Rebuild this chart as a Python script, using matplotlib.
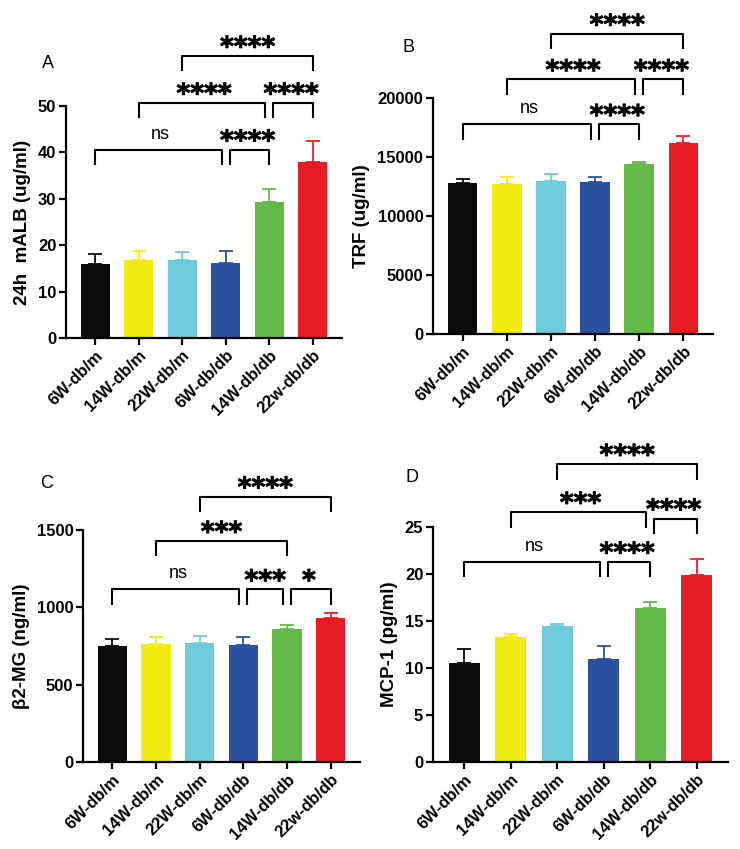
import matplotlib
matplotlib.use('Agg')
import matplotlib.pyplot as plt
import matplotlib.patheffects as pe

plt.rcParams['font.family'] = ['Liberation Sans', 'DejaVu Sans']

groups = ['6W-db/m', '14W-db/m', '22W-db/m', '6W-db/db', '14W-db/db', '22w-db/db']
colors = ['#0b0b0b', '#f2ea12', '#6ecbdb', '#2c50a2', '#63b947', '#e81c25']

# panel A : 24h mALB
malb_mean = [15.9, 16.8, 16.8, 16.2, 29.3, 38.0]
malb_err = [2.3, 2.0, 1.8, 2.6, 2.9, 4.4]
malb_sig = [(0, 3, 40.6, 'ns'), (3, 4, 40.6, '****'), (1, 4, 50.7, '****'),
            (4, 5, 50.7, '****'), (2, 5, 60.8, '****')]

# panel B : TRF
trf_mean = [12760, 12700, 12960, 12850, 14390, 16200]
trf_err = [340, 620, 590, 420, 200, 590]
trf_sig = [(0, 3, 17780, 'ns'), (3, 4, 17780, '****'), (1, 4, 21580, '****'),
           (4, 5, 21580, '****'), (2, 5, 25440, '****')]

# panel C : beta2-MG
b2mg_mean = [753, 762, 770, 757, 861, 932]
b2mg_err = [43, 47, 46, 50, 22, 30]
b2mg_sig = [(0, 3, 1116, 'ns'), (3, 4, 1116, '***'), (4, 5, 1116, '*'),
            (1, 4, 1429, '***'), (2, 5, 1716, '****')]

# panel D : MCP-1
mcp_mean = [10.5, 13.26, 14.46, 10.93, 16.37, 19.9]
mcp_err = [1.5, 0.4, 0.25, 1.37, 0.63, 1.74]
mcp_sig = [(0, 3, 21.3, 'ns'), (3, 4, 21.3, '****'), (1, 4, 26.6, '***'),
           (4, 5, 25.9, '****'), (2, 5, 31.7, '****')]


def bar_panel(ax, means, errs, sig, ylabel, ymax, ystep, letter, letter_xy):
    x = list(range(len(groups)))
    ax.bar(x, means, width=0.67, color=colors, zorder=2)
    for i in x:
        ax.errorbar(i, means[i], yerr=[[0], [errs[i]]], fmt='none',
                    ecolor=colors[i], elinewidth=1.3, capsize=5, capthick=1.3, zorder=3)
    ax.set_xlim(-0.67, len(groups) - 0.33)
    ax.set_ylim(0, ymax)
    ax.set_yticks([v * ystep for v in range(int(ymax / ystep) + 1)])
    ax.set_xticks(x)
    ax.set_xticklabels(groups, rotation=45, ha='right', rotation_mode='anchor',
                       fontweight='bold', fontsize=12)
    for lab in ax.get_yticklabels():
        lab.set_fontweight('bold')
        lab.set_fontsize(12)
    ax.spines['top'].set_visible(False)
    ax.spines['right'].set_visible(False)
    ax.spines['left'].set_linewidth(1.6)
    ax.spines['bottom'].set_linewidth(1.6)
    ax.tick_params(width=1.6, length=5, direction='out', pad=2)
    ax.set_ylabel(ylabel, fontweight='bold', fontsize=13.5, labelpad=5)

    tick = 0.062 * ymax
    for (i, j, y, label) in sig:
        x1, x2 = i, j
        for (a, b, yy, _) in sig:
            if abs(yy - y) < 0.05 * ymax and (a, b) != (i, j):
                if b == i:
                    x1 = i + 0.09
                if a == j:
                    x2 = j - 0.09
        ax.plot([x1, x1, x2, x2], [y - tick, y, y, y - tick], color='black',
                lw=1.5, clip_on=False, zorder=4)
        if label == 'ns':
            ax.annotate(label, xy=((i + j) / 2, y), xytext=(0, 8),
                        textcoords='offset points', ha='center', va='baseline',
                        fontsize=13, annotation_clip=False)
        else:
            ax.annotate(label, xy=((i + j) / 2, y), xytext=(0, 0.5),
                        textcoords='offset points', ha='center', va='baseline',
                        fontsize=19, fontweight='bold', family='DejaVu Sans',
                        annotation_clip=False,
                        path_effects=[pe.withStroke(linewidth=0.7, foreground='black')])
    fig.text(letter_xy[0] / 740, 1 - letter_xy[1] / 849, letter, fontsize=13,
             ha='center', va='center')


fig = plt.figure(figsize=(7.4, 8.49), dpi=100)
axA = fig.add_axes([66 / 740, 1 - 338 / 849, 276 / 740, 232 / 849])
axB = fig.add_axes([433 / 740, 1 - 334 / 849, 280 / 740, 236 / 849])
axC = fig.add_axes([83 / 740, 1 - 762 / 849, 277 / 740, 232 / 849])
axD = fig.add_axes([433 / 740, 1 - 762 / 849, 295 / 740, 235 / 849])

bar_panel(axA, malb_mean, malb_err, malb_sig, '24h  mALB (ug/ml)', 50, 10, 'A', (48, 63))
bar_panel(axB, trf_mean, trf_err, trf_sig, 'TRF (ug/ml)', 20000, 5000, 'B', (408, 48))
bar_panel(axC, b2mg_mean, b2mg_err, b2mg_sig, 'β2-MG (ng/ml)', 1500, 500, 'C', (47, 483))
bar_panel(axD, mcp_mean, mcp_err, mcp_sig, 'MCP-1 (pg/ml)', 25, 5, 'D', (412, 478))

fig.savefig('out.png', dpi=100)
